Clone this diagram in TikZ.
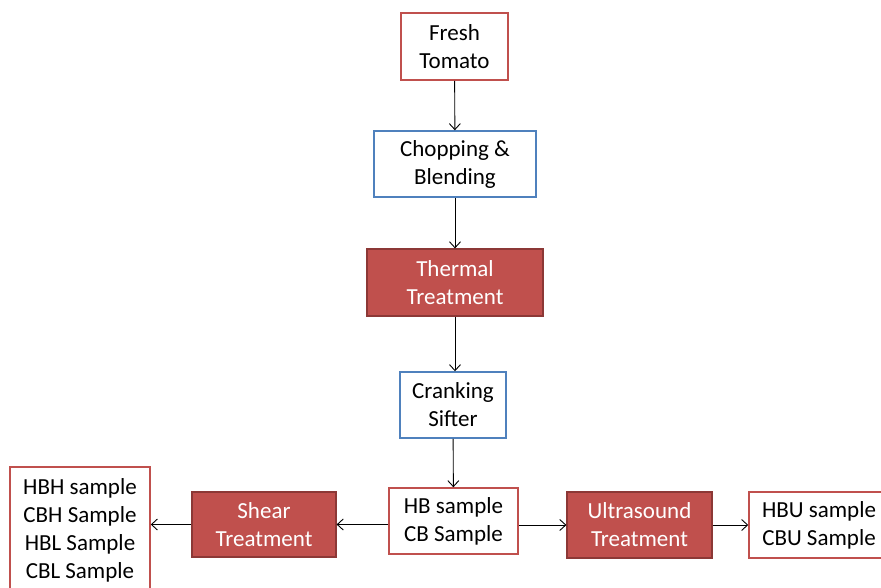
\documentclass[tikz,border=0pt]{standalone}
\usepackage{fontspec}
\setmainfont{Carlito}
\usepackage{xcolor}
\usetikzlibrary{arrows.meta,positioning}
\definecolor{tomred}{HTML}{C0504D}
\definecolor{tomdark}{HTML}{8C3836}
\definecolor{stepblue}{HTML}{4F81BD}

\begin{document}
\begin{tikzpicture}[
    x=1pt, y=-1pt,
    redbox/.style={draw=tomred, fill=white, line width=1.5pt, align=center,
    inner sep=0pt, font=\fontsize{23}{28}\selectfont},
    bluebox/.style={draw=stepblue, fill=white, line width=1.5pt, align=center,
    inner sep=0pt, font=\fontsize{23}{28}\selectfont},
    heatbox/.style={draw=tomdark, fill=tomred, line width=1.2pt, align=center,
    inner sep=0pt, text=white, font=\fontsize{23}{28}\selectfont},
    arr/.style={-{Straight Barb[length=6pt,width=11pt]}, line width=0.9pt}
]
\useasboundingbox (0,0) rectangle (881,587);
\clip (0,0) rectangle (881,587);
\node[redbox, minimum width=107pt, minimum height=67pt] (fresh) at (454.5,46.5) {Fresh\\Tomato};
\node[bluebox, minimum width=162pt, minimum height=66pt] (chop) at (455,164) {Chopping \&\\Blending};
\node[heatbox, minimum width=176pt, minimum height=67pt] (thermal) at (455,282.5) {Thermal\\Treatment};
\node[bluebox, minimum width=106pt, minimum height=66pt] (sifter) at (453,405) {Cranking\\Sifter};
\node[redbox, minimum width=129pt, minimum height=66pt] (hb) at (453.5,521) {HB sample\\CB Sample};
\node[heatbox, minimum width=144pt, minimum height=65pt] (shear) at (264,524.5) {Shear\\Treatment};
\node[heatbox, minimum width=145pt, minimum height=66pt] (ultra) at (639.5,525) {Ultrasound\\Treatment};
\node[redbox, minimum width=140pt, minimum height=126pt] (hbh) at (80,530) {HBH sample\\CBH Sample\\HBL Sample\\CBL Sample};
\node[redbox, minimum width=140pt, minimum height=66pt] (hbu) at (819,525) {HBU sample\\CBU Sample};
\draw[arr] (fresh) -- (chop);
\draw[arr] (chop) -- (thermal);
\draw[arr] (thermal) -- (thermal |- sifter.north);
\draw[arr] (sifter) -- (hb);
\draw[arr] (hb.west |- shear) -- (shear);
\draw[arr] (shear) -- (hbh.east |- shear);
\draw[arr] (hb.east |- ultra) -- (ultra);
\draw[arr] (ultra) -- (hbu);
\end{tikzpicture}
\end{document}
